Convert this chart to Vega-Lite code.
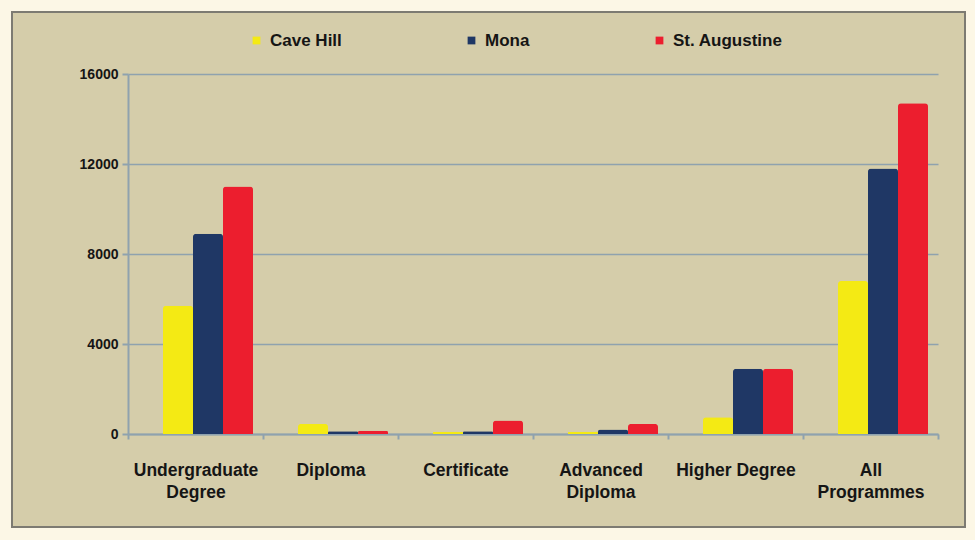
{
  "$schema": "https://vega.github.io/schema/vega-lite/v6.json",
  "autosize": "none",
  "width": 953,
  "height": 515,
  "padding": {"left": 12, "top": 12, "right": 10, "bottom": 13},
  "background": "#FCF7E6",
  "config": {
    "view": {"fill": "#D5CDAA", "stroke": "#7d7b72", "strokeWidth": 2},
    "font": "Liberation Sans"
  },
  "data": {
    "values": [
      {"programme": "Undergraduate Degree", "campus": "Cave Hill", "students": 5700},
      {"programme": "Undergraduate Degree", "campus": "Mona", "students": 8900},
      {"programme": "Undergraduate Degree", "campus": "St. Augustine", "students": 11000},
      {"programme": "Diploma", "campus": "Cave Hill", "students": 450},
      {"programme": "Diploma", "campus": "Mona", "students": 120},
      {"programme": "Diploma", "campus": "St. Augustine", "students": 150},
      {"programme": "Certificate", "campus": "Cave Hill", "students": 100},
      {"programme": "Certificate", "campus": "Mona", "students": 120},
      {"programme": "Certificate", "campus": "St. Augustine", "students": 600},
      {"programme": "Advanced Diploma", "campus": "Cave Hill", "students": 100},
      {"programme": "Advanced Diploma", "campus": "Mona", "students": 200},
      {"programme": "Advanced Diploma", "campus": "St. Augustine", "students": 450},
      {"programme": "Higher Degree", "campus": "Cave Hill", "students": 750},
      {"programme": "Higher Degree", "campus": "Mona", "students": 2900},
      {"programme": "Higher Degree", "campus": "St. Augustine", "students": 2900},
      {"programme": "All Programmes", "campus": "Cave Hill", "students": 6800},
      {"programme": "All Programmes", "campus": "Mona", "students": 11800},
      {"programme": "All Programmes", "campus": "St. Augustine", "students": 14700}
    ]
  },
  "mark": {"type": "bar", "cornerRadiusEnd": 3},
  "encoding": {
    "x": {
      "field": "programme",
      "type": "nominal",
      "sort": ["Undergraduate Degree", "Diploma", "Certificate", "Advanced Diploma", "Higher Degree", "All Programmes"],
      "scale": {"range": [116, 926], "paddingInner": 0, "paddingOuter": 0},
      "axis": {
        "title": null,
        "offset": -93,
        "tickBand": "extent",
        "labelAngle": 0,
        "labelExpr": "datum.label == 'Higher Degree' ? datum.label : split(datum.label, ' ')",
        "labelFont": "Liberation Sans",
        "labelFontSize": 17.5,
        "labelFontWeight": "bold",
        "labelColor": "#151515",
        "labelLineHeight": 22,
        "labelPadding": 22,
        "labelLimit": 300,
        "domainColor": "#8FA2AE",
        "domainWidth": 2,
        "tickColor": "#8FA2AE",
        "tickWidth": 2,
        "tickSize": 5,
        "grid": false
      }
    },
    "xOffset": {
      "field": "campus",
      "sort": ["Cave Hill", "Mona", "St. Augustine"],
      "scale": {"range": [35, 125], "paddingInner": 0, "paddingOuter": 0}
    },
    "y": {
      "field": "students",
      "type": "quantitative",
      "scale": {"domain": [0, 16000], "range": [422, 62], "nice": false},
      "axis": {
        "title": null,
        "offset": -116,
        "values": [0, 4000, 8000, 12000, 16000],
        "format": "d",
        "grid": true,
        "gridColor": "#8FA2AE",
        "gridWidth": 1.5,
        "domainColor": "#8FA2AE",
        "domainWidth": 2,
        "tickColor": "#8FA2AE",
        "tickWidth": 2,
        "tickSize": 6,
        "labelFont": "Liberation Sans",
        "labelFontSize": 14,
        "labelFontWeight": "bold",
        "labelColor": "#151515",
        "labelPadding": 4
      }
    },
    "color": {
      "field": "campus",
      "type": "nominal",
      "sort": ["Cave Hill", "Mona", "St. Augustine"],
      "scale": {"domain": ["Cave Hill", "Mona", "St. Augustine"], "range": ["#F4EA14", "#1F3765", "#EC1E2E"]},
      "legend": {
        "title": null,
        "orient": "none",
        "direction": "horizontal",
        "legendX": 236,
        "legendY": 20,
        "gridAlign": "none",
        "columnPadding": 121,
        "symbolType": "square",
        "symbolSize": 60,
        "labelOffset": 5,
        "labelFont": "Liberation Sans",
        "labelFontSize": 17,
        "labelFontWeight": "bold",
        "labelColor": "#151515"
      }
    }
  }
}
